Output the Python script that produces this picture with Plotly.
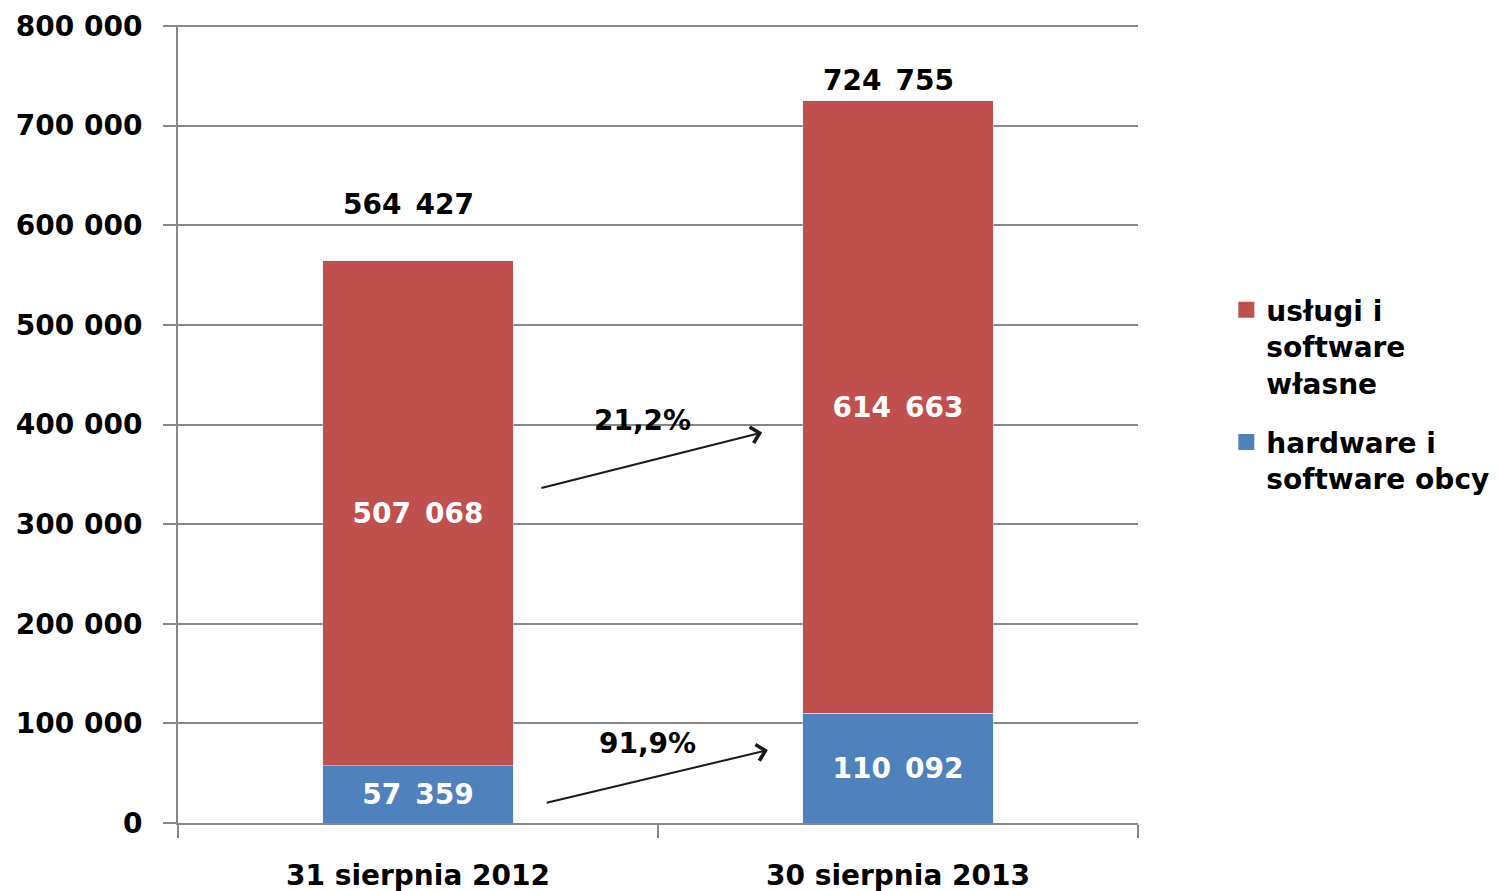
import plotly.graph_objects as go

categories = ["31 sierpnia 2012", "30 sierpnia 2013"]
hardware = [57359, 110092]
uslugi = [507068, 614663]
totals = [564427, 724755]
growth_labels = ["21,2%", "91,9%"]
series_names = ["hardware i<br>software obcy", "usługi i<br>software<br>własne"]
series_colors = ["#4F81BD", "#C0504D"]

x_pos = [0.5, 1.5]
font_family = "DejaVu Sans"
y_max = 800000


def fmt(v):
    # wide gap between thousands groups, as in the original labels
    return f"{v:,}".replace(",", "\u2002")


fig = go.Figure()

for vals, name, color in zip([hardware, uslugi], series_names, series_colors):
    fig.add_trace(go.Bar(
        x=x_pos, y=vals, name=name, showlegend=False,
        marker_color=color, width=0.396,
        text=[fmt(v) for v in vals], texttemplate="%{text}",
        textposition="inside", insidetextanchor="middle",
        textangle=0, textfont=dict(color="white", size=28, family=font_family, weight="bold"),
        hoverinfo="skip"
    ))

# legend entries with larger square keys (top series first)
for name, color in zip(series_names[::-1], series_colors[::-1]):
    fig.add_trace(go.Scatter(
        x=[None], y=[None], mode="markers", name=name, legendgroup=name,
        marker=dict(symbol="square", size=18, color=color)
    ))

# totals above the bars
total_shift = [38, 2]
for xp, t, sh in zip(x_pos, totals, total_shift):
    fig.add_annotation(x=xp - 0.02, y=t, text=fmt(t),
                       showarrow=False, yanchor="bottom", yshift=sh,
                       font=dict(size=28, color="black", family=font_family, weight="bold"))

# growth arrows
arrows = [
    dict(tail=(0.754, 335800), head=(1.217, 392000), label=(0.967, 404000)),
    dict(tail=(0.765, 20050), head=(1.229, 73200), label=(0.979, 80200)),
]
for a, lab in zip(arrows, growth_labels):
    fig.add_annotation(x=a["head"][0], y=a["head"][1], ax=a["tail"][0], ay=a["tail"][1],
                       axref="x", ayref="y", xref="x", yref="y", text="",
                       showarrow=True, arrowhead=4, arrowsize=1.6, arrowwidth=2,
                       arrowcolor="#1a1a1a")
    fig.add_annotation(x=a["label"][0], y=a["label"][1], text=lab, showarrow=False,
                       font=dict(size=28, color="black", family=font_family, weight="bold"))

# top gridline (plotly skips the one on the plot edge)
fig.add_hline(y=y_max, line_color="#878787", line_width=2, layer="below")

fig.update_layout(
    barmode="stack",
    width=1500, height=891,
    margin=dict(l=170, r=370, t=17, b=76),
    plot_bgcolor="white", paper_bgcolor="white",
    separators=", ",
    font=dict(family=font_family, size=28, color="black", weight="bold"),
    uniformtext=dict(minsize=28, mode="show"),
    legend=dict(x=1.092, y=0.674, xanchor="left", yanchor="top",
                traceorder="grouped", valign="top", itemwidth=30,
                font=dict(size=28, family=font_family, weight="bold"),
                tracegroupgap=20),
    xaxis=dict(range=[0, 2], tickvals=x_pos, ticktext=categories, ticks="",
               showline=True, linecolor="#878787", linewidth=2, automargin=False,
               showgrid=False, zeroline=False, ticklabelstandoff=26,
               minor=dict(tickvals=[0, 1, 2], ticks="outside", ticklen=13,
                          tickwidth=2, tickcolor="#878787", showgrid=False)),
    yaxis=dict(range=[0, y_max + 1000], dtick=100000, tickformat=",d", automargin=False,
               showline=True, linecolor="#878787", linewidth=2,
               showgrid=True, gridcolor="#878787", gridwidth=2,
               ticks="outside", ticklen=13, tickwidth=2, tickcolor="#878787",
               zeroline=False, ticklabelstandoff=15),
)

fig.write_html("out.html")
